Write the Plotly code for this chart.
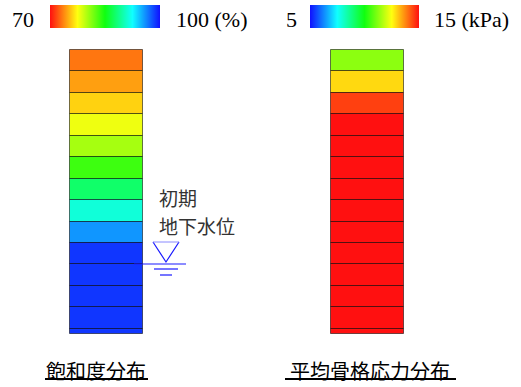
import plotly.graph_objects as go

W, H = 521, 387

# Soil layers (depth index from the surface, layer thickness)
layer_top = [0, 1, 2, 3, 4, 5, 6, 7, 8, 9, 10, 11, 12, 13]
layer_thk = [1, 1, 1, 1, 1, 1, 1, 1, 1, 1, 1, 1, 1, 0.25]

# Degree of saturation per layer (%)
saturation = [73.2, 74.5, 76.1, 78.0, 80.3, 83.6, 87.8, 91.3, 95.8, 98.8, 98.8, 98.8, 98.8, 98.8]
# Average skeleton stress per layer (kPa)
skeleton_stress = [11.3, 12.9, 14.5, 15.0, 15.0, 15.0, 15.0, 15.0, 15.0, 15.0, 15.0, 15.0, 15.0, 15.0]

sat_range = [70, 100]
stress_range = [5, 15]

sat_scale = [[0.0, "#FF1010"], [0.25, "#FFFF10"], [0.5, "#10FF10"], [0.75, "#10FFFF"], [1.0, "#1010FF"]]
stress_scale = [[0.0, "#1010FF"], [0.25, "#10FFFF"], [0.5, "#10FF10"], [0.75, "#FFFF10"], [1.0, "#FF1010"]]

col_width = 73
sat_x = 106.5
stress_x = 367.0

# y axis in layer units: depth 0 at 50 px, 21.44 px per layer
px_per_layer = 21.44
top_px = 50
y_top = -top_px / px_per_layer
y_bot = (H - top_px) / px_per_layer


def py(p):
    return 1 - p / H


fig = go.Figure()

fig.add_trace(go.Bar(
    x=[sat_x] * len(saturation), y=layer_thk, base=layer_top, width=col_width,
    marker=dict(
        color=saturation, colorscale=sat_scale, cmin=sat_range[0], cmax=sat_range[1],
        line=dict(color="rgba(0,0,0,0.55)", width=1), opacity=1,
        showscale=True,
        colorbar=dict(orientation="h", lenmode="pixels", len=110, thickness=23,
                      x=50 / W, xanchor="left", y=py(5), yanchor="top",
                      xpad=0, ypad=0, outlinewidth=0, showticklabels=False, ticks=""),
    ),
    hoverinfo="skip", showlegend=False,
))

fig.add_trace(go.Bar(
    x=[stress_x] * len(skeleton_stress), y=layer_thk, base=layer_top, width=col_width,
    marker=dict(
        color=skeleton_stress, colorscale=stress_scale, cmin=stress_range[0], cmax=stress_range[1],
        line=dict(color="rgba(0,0,0,0.55)", width=1), opacity=1,
        showscale=True,
        colorbar=dict(orientation="h", lenmode="pixels", len=109, thickness=23,
                      x=310 / W, xanchor="left", y=py(5), yanchor="top",
                      xpad=0, ypad=0, outlinewidth=0, showticklabels=False, ticks=""),
    ),
    hoverinfo="skip", showlegend=False,
))

serif = "serif"
jp = "Noto Sans CJK JP"

annotations = [
    dict(x=23, y=py(19), text=f"{sat_range[0]}", font=dict(family=serif, size=22, color="black")),
    dict(x=211, y=py(19), text=f"{sat_range[1]} (%)", font=dict(family=serif, size=22, color="black")),
    dict(x=291, y=py(19), text=f"{stress_range[0]}", font=dict(family=serif, size=22, color="black")),
    dict(x=471, y=py(19), text=f"{stress_range[1]} (kPa)", font=dict(family=serif, size=22, color="black")),
    dict(x=157, y=py(197), text="初期", xanchor="left", font=dict(family=jp, size=19, color="#333333")),
    dict(x=157, y=py(225), text="地下水位", xanchor="left", font=dict(family=jp, size=19, color="#333333")),
    dict(x=96, y=py(370), text="飽和度分布", font=dict(family=jp, size=20, color="black")),
    dict(x=370, y=py(370), text="平均骨格応力分布", font=dict(family=jp, size=20, color="black")),
]
for a in annotations:
    a.setdefault("xanchor", "center")
    a.update(xref="x", yref="paper", yanchor="middle", showarrow=False)

blue = "#1a1aff"
shapes = [
    # water table marker
    dict(type="path", path=f"M 153 {py(242)} L 166 {py(262)} L 179 {py(242)}",
         line=dict(color=blue, width=1.2)),
    dict(type="line", x0=153, x1=179, y0=py(242), y1=py(242), line=dict(color="#8a8aff", width=1)),
    dict(type="line", x0=134, x1=186, y0=py(264), y1=py(264), line=dict(color=blue, width=1.2)),
    dict(type="line", x0=154, x1=178, y0=py(269), y1=py(269), line=dict(color=blue, width=1.2)),
    dict(type="line", x0=160, x1=172, y0=py(275), y1=py(275), line=dict(color=blue, width=1.2)),
    # title underlines
    dict(type="line", x0=45, x1=148, y0=py(379), y1=py(379), line=dict(color="black", width=2)),
    dict(type="line", x0=285, x1=456, y0=py(379), y1=py(379), line=dict(color="black", width=2)),
]
for s in shapes:
    s.update(xref="x", yref="paper")

fig.update_layout(
    width=W, height=H,
    margin=dict(l=0, r=0, t=0, b=0),
    paper_bgcolor="white", plot_bgcolor="white",
    xaxis=dict(range=[0, W], visible=False, fixedrange=True),
    yaxis=dict(range=[y_bot, y_top], visible=False, fixedrange=True),
    barmode="overlay", bargap=0,
    annotations=annotations,
    shapes=shapes,
)

fig.write_html("out.html", config={"displayModeBar": False})
